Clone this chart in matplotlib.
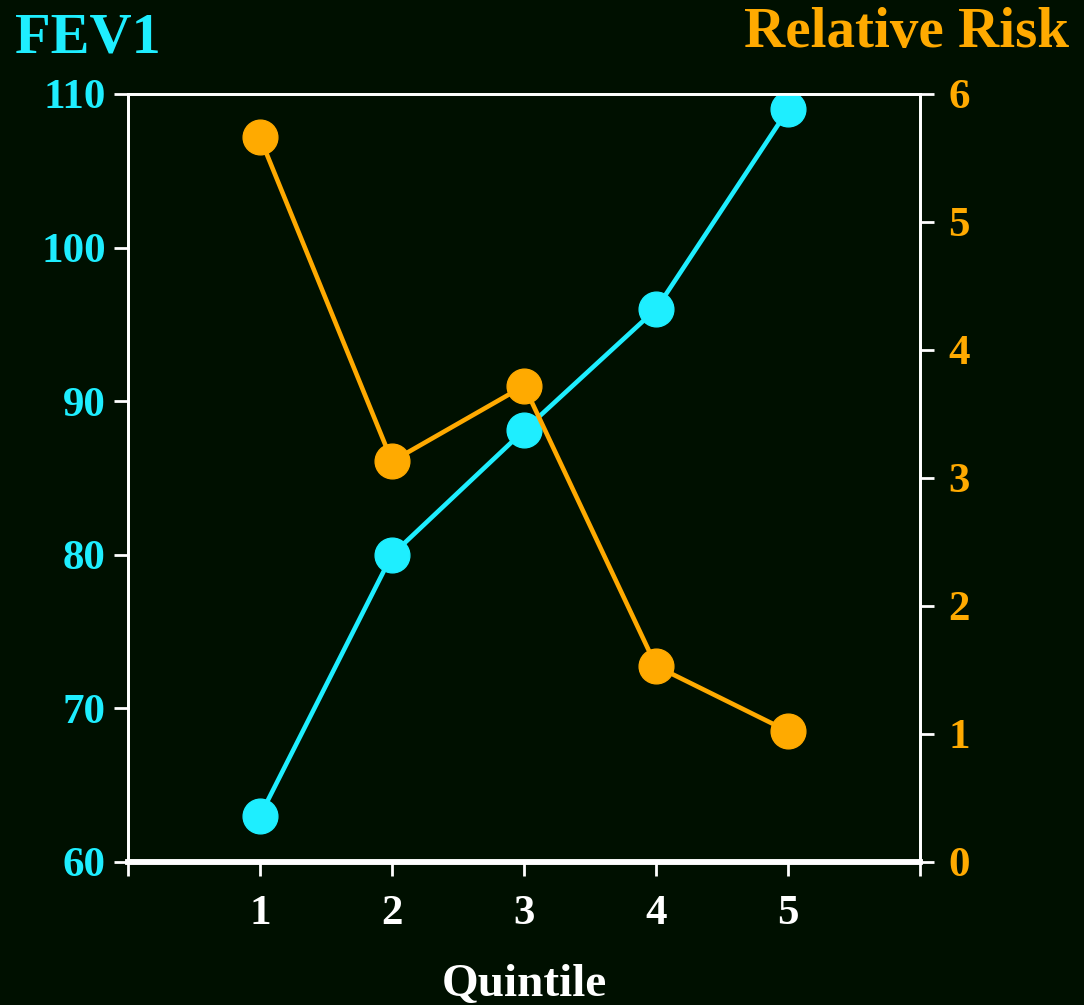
import matplotlib.pyplot as plt

# data
quintile = [1, 2, 3, 4, 5]
fev1 = [63, 80, 88.1, 96, 109]
rel_risk = [5.66, 3.13, 3.72, 1.53, 1.02]

bg = '#001000'
cyan = '#1eeeff'
orange = '#ffaa00'
white = 'white'

plt.rcParams['font.family'] = ['Liberation Serif', 'DejaVu Serif']
plt.rcParams['font.weight'] = 'bold'
plt.rcParams['axes.labelweight'] = 'bold'

fig = plt.figure(figsize=(10.84, 10.05), dpi=100, facecolor=bg)
ax = fig.add_axes([0.118, 0.1423, 0.731, 0.7642])
ax.set_facecolor(bg)
ax2 = ax.twinx()

ax.plot(quintile, fev1, color=cyan, lw=3.3, marker='o', ms=25, zorder=3)
ax2.plot(quintile, rel_risk, color=orange, lw=3.3, marker='o', ms=25, zorder=3)

ax.set_xlim(0, 6)
ax.set_ylim(60, 110)
ax2.set_ylim(0, 6)
ax.set_xticks([0, 1, 2, 3, 4, 5, 6])
ax.set_xticklabels(['', '1', '2', '3', '4', '5', ''])
ax.set_yticks([60, 70, 80, 90, 100, 110])
ax2.set_yticks([0, 1, 2, 3, 4, 5, 6])

ax.tick_params(axis='x', colors=white, labelsize=31, length=10, width=2, pad=14)
ax.tick_params(axis='y', colors=white, labelcolor=cyan, labelsize=31, length=10, width=2, pad=6)
ax2.tick_params(axis='y', colors=white, labelcolor=orange, labelsize=31, length=10, width=2, pad=10)

for a in (ax, ax2):
    for s in a.spines.values():
        s.set_color(white)
        s.set_linewidth(2)
    a.spines['bottom'].set_linewidth(4)

ax.set_xlabel('Quintile', color=white, fontsize=34, labelpad=22)

fig.text(0.014, 0.988, 'FEV1', color=cyan, fontsize=42, fontweight='bold', va='top', ha='left')
fig.text(0.986, 0.993, 'Relative Risk', color=orange, fontsize=41, fontweight='bold', va='top', ha='right')

fig.savefig('out.png', dpi=100, facecolor=bg)
